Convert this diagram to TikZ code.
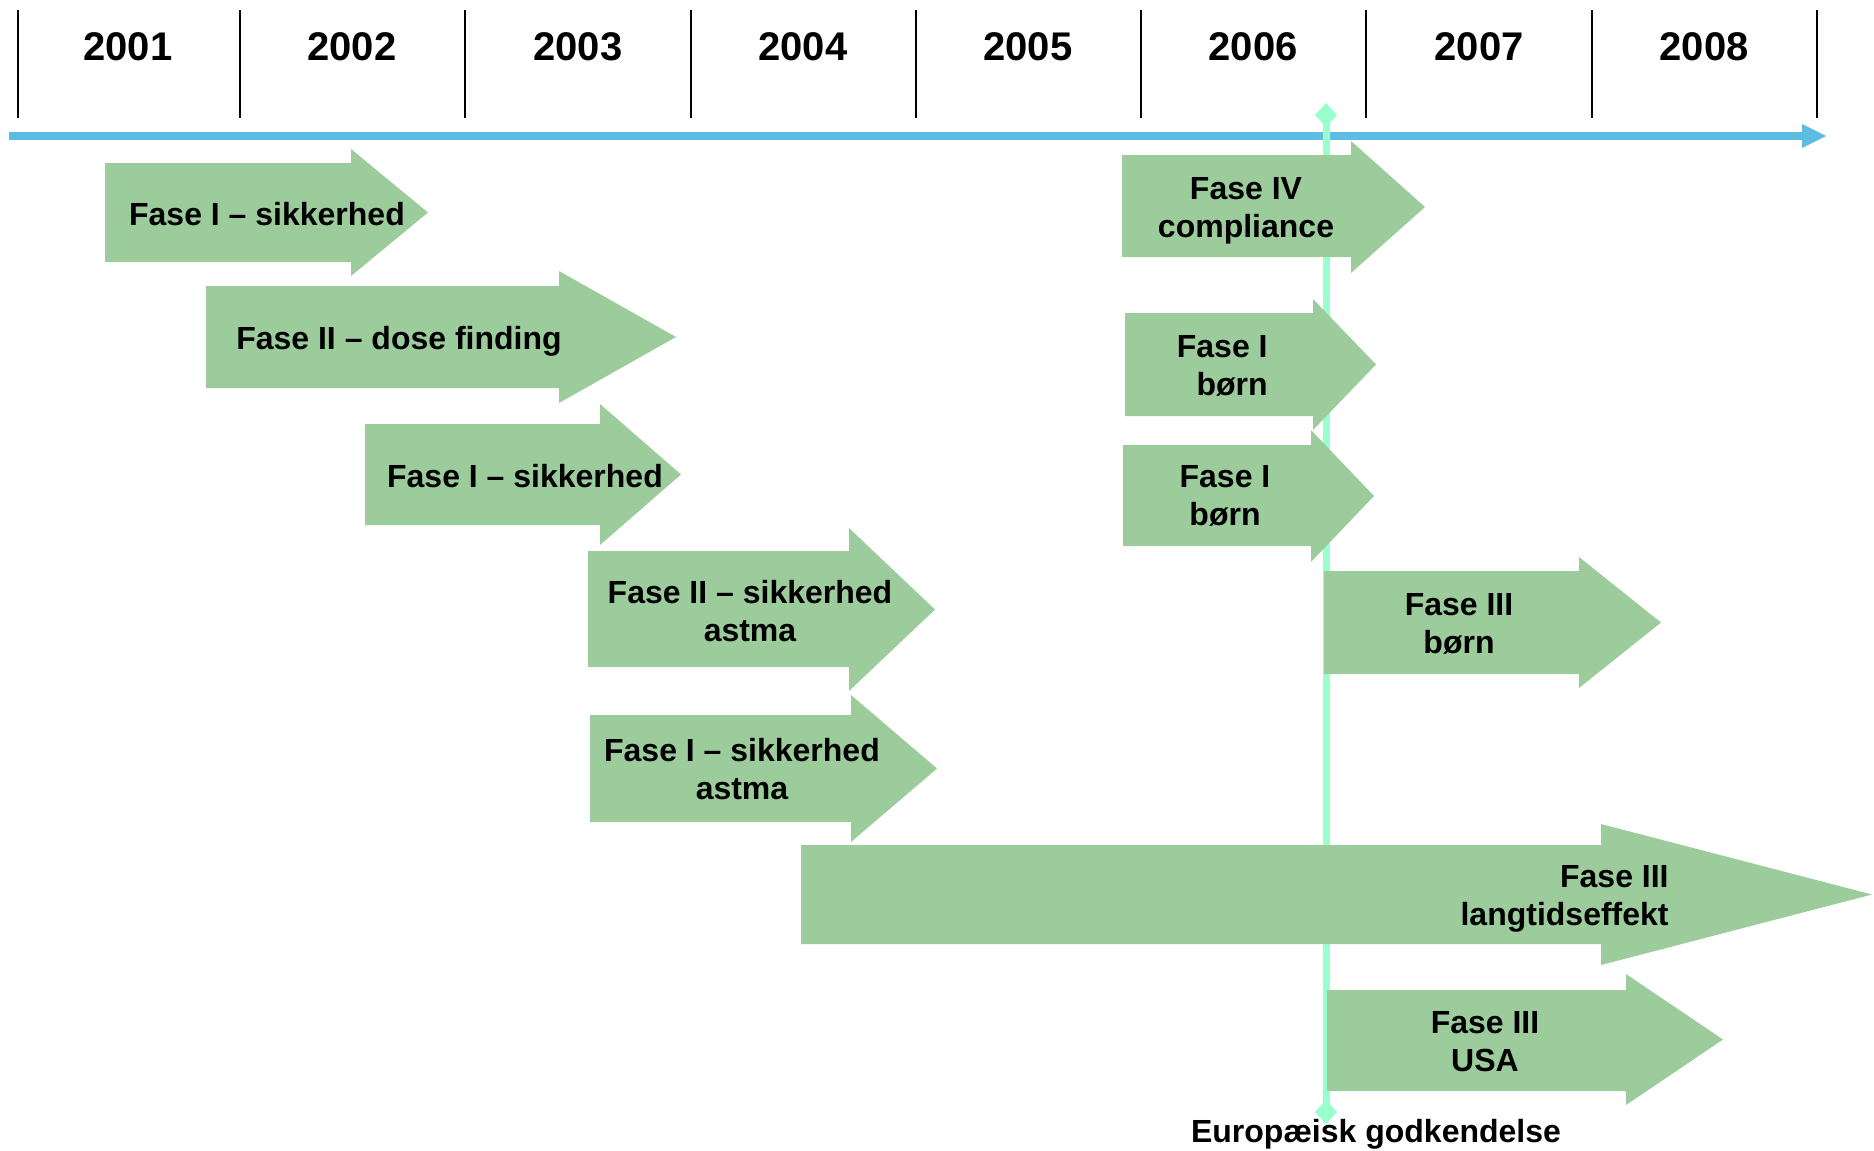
\documentclass[tikz,border=0pt]{standalone}
\usepackage{fontspec}
\setmainfont{Liberation Sans}
\definecolor{phasegreen}{RGB}{156,204,156}
\definecolor{timeblue}{RGB}{92,188,225}
\definecolor{mint}{RGB}{153,255,204}
\newcommand\phasearrow[7]{%
  \fill[phasegreen] (#1,#4) -- (#2,#4) -- (#2,#6) -- (#3,{(#6+#7)/2}) -- (#2,#7) -- (#2,#5) -- (#1,#5) -- cycle;}
\tikzset{
  yearlbl/.style={font=\bfseries\fontsize{20}{24}\selectfont, inner sep=0pt, anchor=base},
  phlbl/.style={font=\bfseries\fontsize{16}{19}\selectfont, inner sep=0pt, align=center, anchor=base},
  tick/.style={line width=1pt, black},
}
\begin{document}
\begin{tikzpicture}[x=0.5pt,y=-0.5pt]
\useasboundingbox (0,0) rectangle (1874,1151);
% year ticks
\foreach \xx in {18,240,465,691,916,1141,1366,1592,1817}{
  \draw[tick] (\xx,10) -- (\xx,118);
}
\foreach \xx/\yr in {128/2001,352/2002,578/2003,803/2004,1028/2005,1253/2006,1479/2007,1704/2008}{
  \node[yearlbl] (y\yr) at (\xx,61) {\yr};
}
% timeline
\coordinate (tl0) at (9,136);
\coordinate (tl1) at (1804,136);
\draw[timeblue, line width=4pt] (tl0) -- (tl1);
\fill[timeblue] (1802,124) -- (1826,136) -- (1802,148) -- cycle;
% approval line
\coordinate (eutop) at (1326,115);
\coordinate (eubot) at (1326,1112);
\draw[mint, line width=3.5pt] (eutop) -- (eubot);
\fill[mint] (1326,103) -- (1337,115) -- (1326,127) -- (1315,115) -- cycle;
\fill[mint] (1326,1100) -- (1337,1112) -- (1326,1124) -- (1315,1112) -- cycle;
% phase arrows
\phasearrow{105}{351}{428}{163}{262}{149}{276}
\phasearrow{206}{559}{676}{286}{388}{271}{403}
\phasearrow{365}{600}{681}{424}{525}{404}{545}
\phasearrow{588}{849}{935}{551}{667}{528}{691}
\phasearrow{590}{851}{937}{715}{822}{695}{842}
\phasearrow{801}{1601}{1872}{845}{944}{824}{965}
\phasearrow{1327}{1626}{1723}{990}{1091}{974}{1105}
\phasearrow{1122}{1351}{1425}{155}{257}{141}{273}
\phasearrow{1125}{1313}{1376}{313}{416}{299}{430}
\phasearrow{1123}{1311}{1374}{445}{546}{430}{562}
\phasearrow{1324}{1579}{1661}{571}{674}{557}{688}
% labels (base = baseline of the last line)
\node[phlbl] (p1) at (267,225) {Fase I -- sikkerhed};
\node[phlbl] (p2) at (399,349) {Fase II -- dose finding};
\node[phlbl] (p3) at (525,487) {Fase I -- sikkerhed};
\node[phlbl] (p4) at (750,641) {Fase II -- sikkerhed\\astma};
\node[phlbl] (p5) at (742,799) {Fase I -- sikkerhed\\astma};
\node[phlbl, align=right, anchor=base east] (p6) at (1669,925) {Fase III\\langtidseffekt};
\node[phlbl] (p7) at (1485,1071) {Fase III\\USA};
\node[phlbl] (p8) at (1246,237) {Fase IV\\compliance};
\node[phlbl, align=right, anchor=base east] (p9) at (1268,395) {Fase I\\børn};
\node[phlbl] (p10) at (1225,525) {Fase I\\børn};
\node[phlbl] (p11) at (1459,653) {Fase III\\børn};
\node[phlbl] (eu) at (1376,1142) {Europæisk godkendelse};
\end{tikzpicture}
\end{document}
